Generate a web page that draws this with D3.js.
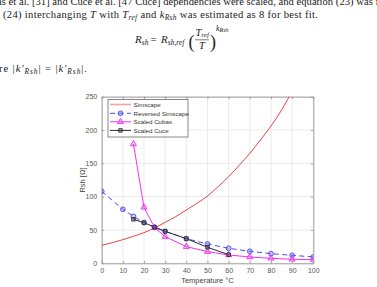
<!doctype html>
<html>
<head>
<meta charset="utf-8">
<script src="https://cdn.jsdelivr.net/npm/d3@7"></script>
<style>
  body { margin: 0; background: #fff; }
  svg { display: block; }
  .body-text { font-family: "Liberation Serif", serif; font-size: 10.6px; fill: #222; }
  .tick text { font-family: "Liberation Sans", Arial, sans-serif; font-size: 7px; fill: #555; }
</style>
</head>
<body>
<div id="container"></div>
<script>
// chart data
var simT   = [0, 5, 10, 15, 20, 25, 30, 35, 40, 45, 50, 55, 60, 65, 70, 75, 80, 85, 90];
var simR   = [27, 31, 35.5, 40.5, 46, 53, 61.5, 70, 80, 90, 101, 115, 130, 147, 165, 185, 206, 230, 258];

var revT   = [0, 10, 15, 20, 25, 30, 40, 50, 60, 70, 80, 90, 100];
var revR   = [108, 81, 70.5, 61, 54, 48, 37, 29, 22.5, 18, 14.5, 12, 9.5];

var cubasT = [15, 20, 25, 30, 40, 50, 60, 70, 80, 90, 100];
var cubasR = [179, 84, 53.5, 40, 25, 17.5, 12.5, 9.5, 7.5, 6, 5.5];

var cuceT  = [15, 20, 25, 30, 40, 50, 60];
var cuceR  = [66, 61, 54, 48, 37, 24, 13];

var xTicks = [0, 10, 20, 30, 40, 50, 60, 70, 80, 90, 100];
var yTicks = [0, 50, 100, 150, 200, 250];
var seriesNames = ["Simscape", "Reversed Simscape", "Scaled Cubas", "Scaled Cuce"];

var W = 377, H = 287;
var svg = d3.select("#container").append("svg")
  .attr("width", W).attr("height", H);

// ---- surrounding paper text (first line is cut by the top edge, as in the source) ----
svg.append("text").attr("class", "body-text").attr("x", -3).attr("y", 5)
  .attr("textLength", 382).attr("lengthAdjust", "spacing")
  .text("as et al. [31] and Cuce et al. [47 Cuce] dependencies were scaled, and equation (23) was f");

function sub(t, s, size) {
  t.append("tspan").attr("font-style", "italic").attr("font-size", size || "7.5px").attr("dy", 2).text(s);
}
var t2 = svg.append("text").attr("class", "body-text").attr("x", 3).attr("y", 17.5)
  .attr("textLength", 315).attr("lengthAdjust", "spacing");
t2.append("tspan").text("(24) interchanging ");
t2.append("tspan").attr("font-style", "italic").text("T");
t2.append("tspan").text("  with  ");
t2.append("tspan").attr("font-style", "italic").text("T");
sub(t2, "ref");
t2.append("tspan").attr("dy", -2).text("  and  ");
t2.append("tspan").attr("font-style", "italic").text("k");
sub(t2, "Rsh");
t2.append("tspan").attr("dy", -2).text("  was estimated as 8 for best fit.");

// formula
var f = svg.append("g").attr("class", "body-text");
var fm = f.append("text").attr("x", 135).attr("y", 43).attr("font-size", "11px");
fm.append("tspan").attr("font-style", "italic").text("R");
sub(fm, "sh");
f.append("text").attr("x", 150.5).attr("y", 43).attr("font-size", "11px").text("=");
var fr = f.append("text").attr("x", 161).attr("y", 43).attr("font-size", "11px");
fr.append("tspan").attr("font-style", "italic").text("R");
sub(fr, "sh,ref");
f.append("text").attr("x", 188.5).attr("y", 47.5).attr("font-size", "18px").attr("font-weight", "200").text("(");
f.append("text").attr("x", 210).attr("y", 47.5).attr("font-size", "18px").attr("font-weight", "200").text(")");
var num = f.append("text").attr("x", 195.5).attr("y", 36.2).attr("font-size", "10.5px");
num.append("tspan").attr("font-style", "italic").text("T");
num.append("tspan").attr("font-style", "italic").attr("font-size", "7px").attr("dy", 1.2).text("ref");
f.append("line").attr("x1", 195).attr("x2", 209).attr("y1", 39.8).attr("y2", 39.8)
  .attr("stroke", "#222").attr("stroke-width", 0.6);
f.append("text").attr("x", 199).attr("y", 49).attr("font-size", "10.5px").attr("font-style", "italic").text("T");
var ex = f.append("text").attr("x", 216).attr("y", 30.5).attr("font-size", "8px");
ex.append("tspan").attr("font-style", "italic").text("k");
ex.append("tspan").attr("font-style", "italic").attr("font-size", "6px").attr("dy", 1.5).text("Rsh");

var t3 = svg.append("text").attr("class", "body-text").attr("x", -1).attr("y", 72)
  .attr("textLength", 88).attr("lengthAdjust", "spacing");
t3.append("tspan").text("re  |");
t3.append("tspan").attr("font-style", "italic").text("k\u2032");
sub(t3, "Rsh");
t3.append("tspan").attr("dy", -2).text("| = |");
t3.append("tspan").attr("font-style", "italic").text("k\u2032");
sub(t3, "Rsh");
t3.append("tspan").attr("dy", -2).text("|.");

// ---- chart ----
var x = d3.scaleLinear().domain([0, 100]).range([101.7, 313.3]);
var y = d3.scaleLinear().domain([0, 250]).range([263.3, 96.7]);

var plot = svg.append("g");

// grid
plot.append("g").selectAll("line").data(xTicks).enter().append("line")
  .attr("x1", function(d){ return x(d); }).attr("x2", function(d){ return x(d); })
  .attr("y1", y(0)).attr("y2", y(250))
  .attr("stroke", "#e3e3e3").attr("stroke-width", 0.7);
plot.append("g").selectAll("line").data(yTicks).enter().append("line")
  .attr("y1", function(d){ return y(d); }).attr("y2", function(d){ return y(d); })
  .attr("x1", x(0)).attr("x2", x(100))
  .attr("stroke", "#e3e3e3").attr("stroke-width", 0.7);

// axes
var axColor = "#8a8a8a";
function styleAxis(g) {
  g.select(".domain").attr("stroke", axColor).attr("stroke-width", 0.8);
  g.selectAll(".tick line").attr("stroke", axColor).attr("stroke-width", 0.7);
}
svg.append("g").attr("transform", "translate(0," + y(0) + ")")
  .call(d3.axisBottom(x).tickValues(xTicks).tickSizeInner(-2.5).tickSizeOuter(0).tickPadding(4.5))
  .call(styleAxis);
svg.append("g").attr("transform", "translate(0," + y(250) + ")")
  .call(d3.axisTop(x).tickValues(xTicks).tickSizeInner(-2.5).tickSizeOuter(0).tickFormat(""))
  .call(styleAxis);
svg.append("g").attr("transform", "translate(" + x(0) + ",0)")
  .call(d3.axisLeft(y).tickValues(yTicks).tickSizeInner(-2.5).tickSizeOuter(0).tickPadding(4.5))
  .call(styleAxis);
svg.append("g").attr("transform", "translate(" + x(100) + ",0)")
  .call(d3.axisRight(y).tickValues(yTicks).tickSizeInner(-2.5).tickSizeOuter(0).tickFormat(""))
  .call(styleAxis);

svg.append("text").attr("x", (x(0) + x(100)) / 2).attr("y", 283)
  .attr("text-anchor", "middle").attr("font-family", "Liberation Sans, Arial, sans-serif")
  .attr("font-size", "7.5px").attr("fill", "#444").text("Temperature \u00B0C");
svg.append("text").attr("transform", "translate(85," + (y(125)) + ") rotate(-90)")
  .attr("text-anchor", "middle").attr("font-family", "Liberation Sans, Arial, sans-serif")
  .attr("font-size", "7.5px").attr("fill", "#444").text("Rsh [\u03A9]");

// clip
svg.append("clipPath").attr("id", "clip").append("rect")
  .attr("x", x(0)).attr("y", y(250)).attr("width", x(100) - x(0)).attr("height", y(0) - y(250));

var line = d3.line().x(function(d){ return x(d[0]); }).y(function(d){ return y(d[1]); });
function pairs(a, b) { return a.map(function(v, i){ return [v, b[i]]; }); }

var colRed = "#e5453f", colBlue = "#4b4be6", colMag = "#f032f0", colBlk = "#2a2a2a";

var lines = svg.append("g").attr("clip-path", "url(#clip)");
lines.append("path").datum(pairs(simT, simR))
  .attr("d", line.curve(d3.curveMonotoneX)).attr("fill", "none")
  .attr("stroke", colRed).attr("stroke-width", 1);
line.curve(d3.curveLinear);

lines.append("path").datum(pairs(revT, revR)).attr("d", line)
  .attr("fill", "none").attr("stroke", colBlue).attr("stroke-width", 1)
  .attr("stroke-dasharray", "5,3.5");
lines.append("path").datum(pairs(cubasT, cubasR)).attr("d", line)
  .attr("fill", "none").attr("stroke", colMag).attr("stroke-width", 1);
lines.append("path").datum(pairs(cuceT, cuceR)).attr("d", line)
  .attr("fill", "none").attr("stroke", colBlk).attr("stroke-width", 1);

var tri = d3.symbol().type(d3.symbolTriangle).size(16);
var sq = d3.symbol().type(d3.symbolSquare).size(12);

lines.append("g").selectAll("circle").data(pairs(revT, revR)).enter().append("circle")
  .attr("cx", function(d){ return x(d[0]); }).attr("cy", function(d){ return y(d[1]); })
  .attr("r", 2.4).attr("fill", "rgba(110,110,240,0.35)").attr("stroke", colBlue).attr("stroke-width", 0.9);
lines.append("g").selectAll("path").data(pairs(cubasT, cubasR)).enter().append("path")
  .attr("d", tri).attr("transform", function(d){ return "translate(" + x(d[0]) + "," + y(d[1]) + ")"; })
  .attr("fill", "rgba(240,60,240,0.3)").attr("stroke", colMag).attr("stroke-width", 0.9);
lines.append("g").selectAll("path").data(pairs(cuceT, cuceR)).enter().append("path")
  .attr("d", sq).attr("transform", function(d){ return "translate(" + x(d[0]) + "," + y(d[1]) + ")"; })
  .attr("fill", "rgba(60,60,60,0.3)").attr("stroke", colBlk).attr("stroke-width", 0.9);

// legend
var lg = svg.append("g");
lg.append("rect").attr("x", 108).attr("y", 99.5).attr("width", 80).attr("height", 37.5)
  .attr("fill", "#fff").attr("stroke", "#6a6a6a").attr("stroke-width", 0.8);
var rowY = [104.5, 113.3, 121.8, 130.4];
var legCol = ["#f2a3a3", colBlue, colMag, colBlk];
var rows = lg.selectAll("g.row").data(seriesNames).enter().append("g")
  .attr("transform", function(d, i){ return "translate(0," + rowY[i] + ")"; });
rows.append("line").attr("x1", 110).attr("x2", 131).attr("y1", 0).attr("y2", 0)
  .attr("stroke", function(d, i){ return legCol[i]; })
  .attr("stroke-width", function(d, i){ return i === 0 ? 1.6 : 1; })
  .attr("stroke-dasharray", function(d, i){ return i === 1 ? "5,3.5" : null; });
rows.append("text").attr("x", 133.5).attr("y", 2.3)
  .attr("font-family", "Liberation Sans, Arial, sans-serif").attr("font-size", "6.2px").attr("fill", "#333")
  .text(function(d){ return d; });
lg.append("circle").attr("cx", 120.5).attr("cy", rowY[1]).attr("r", 2.4)
  .attr("fill", "rgba(110,110,240,0.35)").attr("stroke", colBlue).attr("stroke-width", 0.9);
lg.append("path").attr("d", tri).attr("transform", "translate(120.5," + rowY[2] + ")")
  .attr("fill", "rgba(240,60,240,0.3)").attr("stroke", colMag).attr("stroke-width", 0.9);
lg.append("path").attr("d", sq).attr("transform", "translate(120.5," + rowY[3] + ")")
  .attr("fill", "rgba(60,60,60,0.3)").attr("stroke", colBlk).attr("stroke-width", 0.9);
</script>
</body>
</html>
